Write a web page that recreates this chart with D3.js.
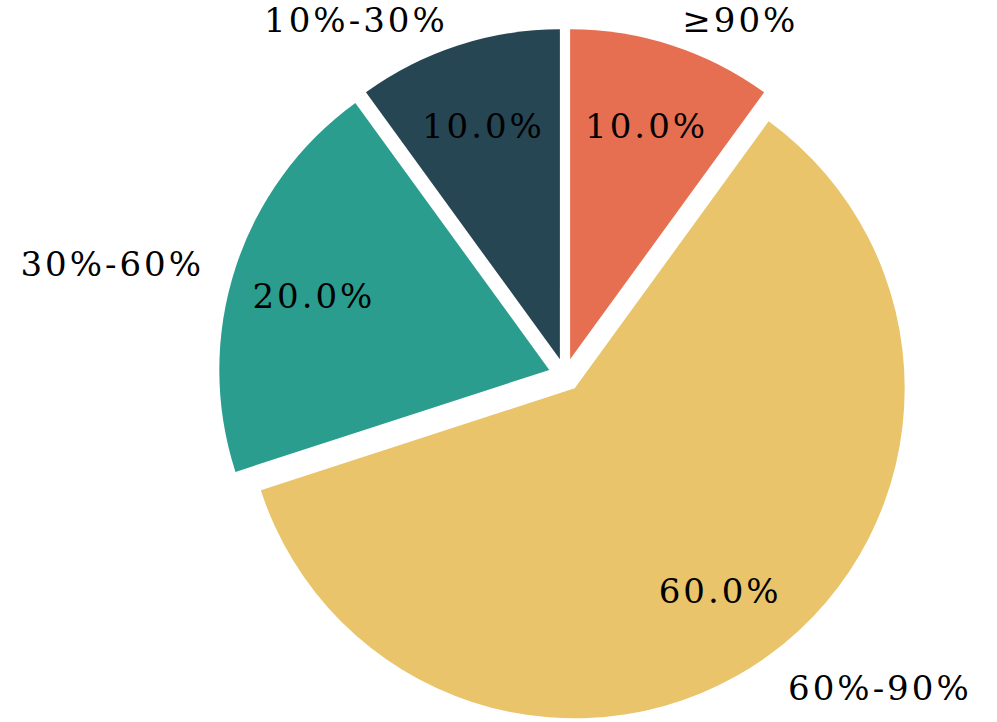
<!DOCTYPE html>
<html>
<head>
<meta charset="utf-8">
<script src="https://cdn.jsdelivr.net/npm/d3@7"></script>
<style>
    html, body { margin: 0; padding: 0; background: #ffffff; }
    svg { display: block; }
</style>
</head>
<body>
<div class="container"></div>
<script>
var categories = ["10%-30%", "30%-60%", "60%-90%", "≥90%"];
var shares = [10, 20, 60, 10];
var sliceColors = ["#264653", "#2A9D8F", "#E9C46A", "#E76F51"];

var SVG_WIDTH = 997;
var SVG_HEIGHT = 722;

document.addEventListener('DOMContentLoaded', function () {
    var center = { x: 565, y: 375 };
    var radius = 330;
    var explode = 0.05 * radius;
    var labelDistance = 1.1;
    var pctDistance = 0.75;
    var fontSize = 34;

    var svg = d3.select(".container")
        .append("svg")
        .attr("width", SVG_WIDTH)
        .attr("height", SVG_HEIGHT);

    var total = d3.sum(shares);

    // counterclockwise from 12 o'clock, like matplotlib startangle=90
    var pie = d3.pie()
        .sort(null)
        .value(d => d)
        .startAngle(2 * Math.PI)
        .endAngle(0);

    var arcs = pie(shares);
    var arc = d3.arc().innerRadius(0).outerRadius(radius);

    function mid(d) { return (d.startAngle + d.endAngle) / 2; }
    function along(a, dist) {
        return [center.x + dist * Math.sin(a), center.y - dist * Math.cos(a)];
    }

    var g = svg.append("g");

    g.selectAll("path")
        .data(arcs)
        .enter()
        .append("path")
        .attr("transform", d => {
            var p = along(mid(d), explode);
            return `translate(${p[0]}, ${p[1]})`;
        })
        .attr("d", arc)
        .attr("fill", (d, i) => sliceColors[i]);

    // digits sit ~0.365em above baseline
    var pctShift = 2 + 0.365 * fontSize;
    var labelShift = 5.6 + 0.365 * fontSize;

    g.selectAll("text.label")
        .data(arcs)
        .enter()
        .append("text")
        .attr("class", "label")
        .attr("x", d => along(mid(d), explode + labelDistance * radius)[0])
        .attr("y", d => along(mid(d), explode + labelDistance * radius)[1] + labelShift)
        .attr("text-anchor", d => Math.sin(mid(d)) > 0 ? "start" : "end")
        .style("font-family", "'DejaVu Serif', serif")
        .style("font-size", fontSize + "px")
        .style("letter-spacing", "3px")
        .attr("fill", "#000")
        .text((d, i) => categories[i]);

    g.selectAll("text.pct")
        .data(arcs)
        .enter()
        .append("text")
        .attr("class", "pct")
        .attr("x", d => along(mid(d), explode + pctDistance * radius)[0])
        .attr("y", d => along(mid(d), explode + pctDistance * radius)[1] + pctShift)
        .attr("text-anchor", "middle")
        .style("font-family", "'DejaVu Serif', serif")
        .style("font-size", fontSize + "px")
        .style("letter-spacing", "3px")
        .attr("fill", "#000")
        .text(d => (d.value / total * 100).toFixed(1) + "%");
});
</script>
</body>
</html>
